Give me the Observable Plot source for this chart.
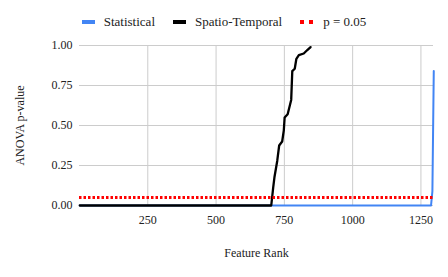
<!DOCTYPE html>
<html>
<head>
<meta charset="utf-8">
<script src="https://cdn.jsdelivr.net/npm/d3@7"></script>
<script src="https://cdn.jsdelivr.net/npm/@observablehq/plot@0.6"></script>
<style>
  html, body { margin: 0; padding: 0; background: #fff; }
  body { width: 448px; height: 277px; overflow: hidden; font-family: "Liberation Serif", serif; }
  #legend { height: 35px; display: flex; justify-content: center; align-items: center; padding-top: 9px; box-sizing: border-box; font-size: 13px; color: #222; }
  .item { display: flex; align-items: center; margin: 0 9px; }
  .sw { width: 13px; height: 4px; margin-right: 9px; }
  .dots { width: 13px; height: 4px; margin-right: 10px; background: repeating-linear-gradient(90deg, #ff0000 0 4px, transparent 4px 9px); }
  svg { display: block; }
</style>
</head>
<body>
<div id="legend"></div>
<div id="chart"></div>
<script>
// Series names
const seriesNames = ["Statistical", "Spatio-Temporal", "p = 0.05"];
const seriesColors = ["#4285f4", "#000000", "#ff0000"];

// Statistical series (feature rank, p-value)
const statRank = [1, 1287, 1292, 1297];
const statP = [0, 0, 0.09, 0.84];

// Spatio-Temporal series
const stRank = [1, 702, 709, 714, 724, 731, 742, 748, 751, 762, 770, 775, 779, 788, 794, 803, 821, 833, 846];
const stP = [0, 0, 0.11, 0.18, 0.28, 0.375, 0.40, 0.47, 0.55, 0.57, 0.625, 0.66, 0.84, 0.855, 0.917, 0.94, 0.95, 0.97, 0.99];

// Threshold
const threshold = 0.05;

// Ticks
const xTicks = [250, 500, 750, 1000, 1250];
const yTicks = [0, 0.25, 0.5, 0.75, 1];

const statData = statRank.map((r, i) => ({rank: r, p: statP[i]}));
const stData = stRank.map((r, i) => ({rank: r, p: stP[i]}));

// Legend
const legend = document.getElementById("legend");
seriesNames.forEach((name, i) => {
  const it = document.createElement("div");
  it.className = "item";
  const sw = document.createElement("div");
  if (i === 2) { sw.className = "dots"; }
  else { sw.className = "sw"; sw.style.background = seriesColors[i]; }
  const t = document.createElement("span");
  t.textContent = name;
  it.appendChild(sw); it.appendChild(t);
  legend.appendChild(it);
});

const serif = "Liberation Serif";
const chart = Plot.plot({
  width: 448,
  height: 242,
  marginLeft: 79,
  marginRight: 15,
  marginTop: 10,
  marginBottom: 72,
  style: {fontFamily: serif, fontSize: "12px", color: "#222", fontVariant: "normal"},
  x: {domain: [0, 1296]},
  y: {domain: [0, 1]},
  marks: [
    Plot.gridX(xTicks, {stroke: "#cccccc", strokeOpacity: 1}),
    Plot.gridY(yTicks, {stroke: "#cccccc", strokeOpacity: 1}),
    Plot.axisX(xTicks, {tickSize: 0, tickPadding: 10, tickFormat: d => String(d), fontSize: 12, fontFamily: serif, fontVariant: "normal", label: "Feature Rank", labelAnchor: "center", labelOffset: 51, labelArrow: "none"}),
    Plot.axisY(yTicks, {tickSize: 0, tickPadding: 7, tickFormat: d3.format(".2f"), fontSize: 12, fontFamily: serif, fontVariant: "normal", label: "ANOVA p-value", labelAnchor: "center", labelOffset: 64, labelArrow: "none"}),
    Plot.line(statData, {x: "rank", y: "p", stroke: seriesColors[0], strokeWidth: 2}),
    Plot.line(stData, {x: "rank", y: "p", stroke: seriesColors[1], strokeWidth: 2.3}),
    Plot.ruleY([threshold], {stroke: seriesColors[2], strokeWidth: 3, strokeDasharray: "2.5,2"})
  ]
});
chart.querySelectorAll("text").forEach(t => t.style.fontFamily = serif);
document.getElementById("chart").appendChild(chart);
</script>
</body>
</html>
